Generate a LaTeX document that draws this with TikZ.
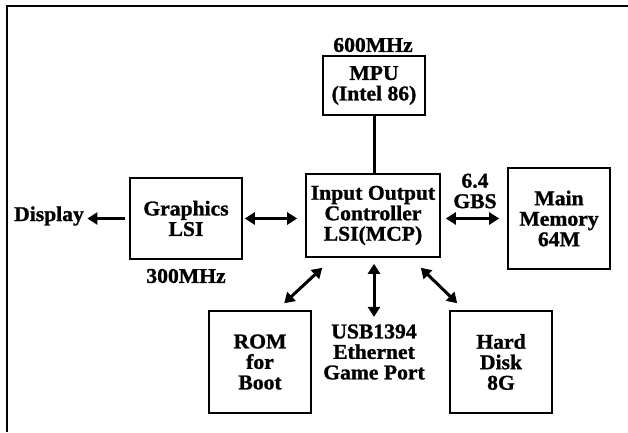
\documentclass[tikz,border=0pt]{standalone}
\usepackage{fontspec}
\setmainfont{Liberation Serif}[FakeStretch=1.03, FakeBold=1.2]
\usetikzlibrary{arrows.meta}

\begin{document}
\begin{tikzpicture}[x=1pt, y=1pt,
    every node/.style={font=\fontsize{21}{20.5}\selectfont\bfseries, align=center},
    blk/.style={draw, line width=1.6pt, inner sep=0pt},
    conn/.style={line width=3pt},
    dbl/.style={conn, {Triangle[length=10pt,width=12pt]}-{Triangle[length=10pt,width=12pt]}},
    one/.style={conn, -{Triangle[length=10pt,width=12pt]}}]
                \useasboundingbox (0,0) rectangle (628,432);
                \draw[line width=1.6pt] (628,426) -- (7,426) -- (7,0);

                \node[blk, minimum width=102pt, minimum height=59pt] (mpu) at (374,346.5) {MPU\\(Intel 86)};
                \node[blk, minimum width=134pt, minimum height=83pt] (ioc) at (373,216.5) {Input Output\\Controller\\LSI(MCP)};
                \node[blk, minimum width=112pt, minimum height=81pt] (gfx) at (186,213.5) {Graphics\\LSI};
                \node[blk, minimum width=102pt, minimum height=101pt] (mem) at (559,213.5) {Main\\Memory\\64M};
                \node[blk, minimum width=102pt, minimum height=102pt] (rom) at (260,70) {ROM\\for\\Boot};
                \node[blk, minimum width=102pt, minimum height=102pt] (hdd) at (501,70) {Hard\\Disk\\8G};
                \node (usb) at (374,80) {USB1394\\Ethernet\\Game Port};
                \node (disp) at (49,216) {Display};

                \node (mpuclk) at (373,387) {600MHz};
                \node (gfxclk) at (186,156) {300MHz};
                \node (bw) at (475,241) {6.4\\GBS};

                \draw[conn] (mpu.south) -- (mpu.south |- ioc.north);
                \draw[one, shorten <=4pt] (gfx.west) -- (gfx.west -| disp.east);
                \draw[dbl, shorten <=2pt, shorten >=8pt] (gfx.east) -- (gfx.east -| ioc.west);
                \draw[dbl, shorten <=5pt, shorten >=8pt] (mem.west -| ioc.east) -- (mem.west);
                \draw[dbl] ([xshift=17pt,yshift=-10pt]ioc.south west) -- ([xshift=76pt,yshift=7pt]rom.north west);
                \draw[dbl, shorten <=6pt, shorten >=4pt] (ioc.south -| usb.north) -- (usb.north);
                \draw[dbl] ([xshift=-20pt,yshift=-10pt]ioc.south east) -- ([xshift=8pt,yshift=7pt]hdd.north west);
            \end{tikzpicture}
\end{document}
